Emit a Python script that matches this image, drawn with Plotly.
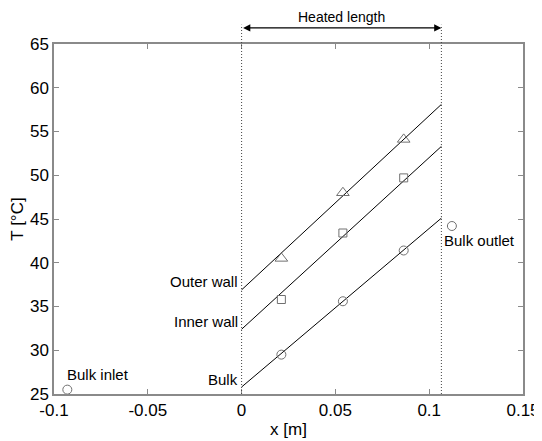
import plotly.graph_objects as go

# Data
x_meas = [0.0212, 0.054, 0.0864]
T_outer = [40.5, 48.0, 54.1]
T_inner = [35.8, 43.4, 49.7]
T_bulk = [29.5, 35.6, 41.4]

heated_x = [0.0, 0.1065]
fit_outer = [36.9, 58.1]
fit_inner = [32.4, 53.3]
fit_bulk = [25.8, 45.1]

inlet_x = [-0.0929]
inlet_T = [25.5]
outlet_x = [0.1121]
outlet_T = [44.2]

x_ticks = [-0.1, -0.05, 0, 0.05, 0.1, 0.15]
x_ticktext = ["-0.1", "-0.05", "0", "0.05", "0.1", "0.15"]
y_ticks = [25, 30, 35, 40, 45, 50, 55, 60, 65]

FONT = "Liberation Sans, Arial, sans-serif"
MK = "#707070"

fig = go.Figure()

for fy in [fit_outer, fit_inner, fit_bulk]:
    fig.add_trace(go.Scatter(x=heated_x, y=fy, mode="lines",
                             line=dict(color="black", width=1), showlegend=False))

fig.add_trace(go.Scatter(x=x_meas, y=T_outer, mode="markers", showlegend=False,
                         marker=dict(symbol="triangle-up-open", size=11, color=MK, line=dict(width=1))))
fig.add_trace(go.Scatter(x=x_meas, y=T_inner, mode="markers", showlegend=False,
                         marker=dict(symbol="square-open", size=8, color=MK, line=dict(width=1))))
fig.add_trace(go.Scatter(x=x_meas + inlet_x + outlet_x, y=T_bulk + inlet_T + outlet_T,
                         mode="markers", showlegend=False,
                         marker=dict(symbol="circle-open", size=9, color=MK, line=dict(width=1))))

# dotted heated-length boundaries
for xv in heated_x:
    fig.add_shape(type="line", xref="x", yref="paper", x0=xv, x1=xv, y0=0, y1=1.055,
                  line=dict(color="#444444", width=1, dash="1px,2px"))

# double arrow
fig.add_annotation(x=heated_x[1], y=1.0458, xref="x", yref="paper",
                   ax=heated_x[0], ay=0, axref="x", ayref="pixel",
                   showarrow=True, arrowhead=2, arrowside="end+start", arrowsize=1.2,
                   arrowwidth=1.2, arrowcolor="black", text="")
fig.add_annotation(x=(heated_x[0] + heated_x[1]) / 2, y=1.077, xref="x", yref="paper",
                   text="Heated length", showarrow=False, yanchor="middle", borderpad=0,
                   font=dict(size=14, color="black", family=FONT))

lbl = dict(showarrow=False, font=dict(size=15, color="black", family=FONT))
fig.add_annotation(x=-0.001, y=fit_outer[0] + 1.0, xref="x", yref="y", text="Outer wall",
                   xanchor="right", yanchor="middle", **lbl)
fig.add_annotation(x=-0.001, y=fit_inner[0] + 0.9, xref="x", yref="y", text="Inner wall",
                   xanchor="right", yanchor="middle", **lbl)
fig.add_annotation(x=-0.001, y=fit_bulk[0] + 0.9, xref="x", yref="y", text="Bulk",
                   xanchor="right", yanchor="middle", **lbl)
fig.add_annotation(x=inlet_x[0] - 0.0015, y=inlet_T[0] + 1.7, xref="x", yref="y", text="Bulk inlet",
                   xanchor="left", yanchor="middle", **lbl)
fig.add_annotation(x=outlet_x[0] - 0.0055, y=outlet_T[0] - 1.7, xref="x", yref="y", text="Bulk outlet",
                   xanchor="left", yanchor="middle", **lbl)

axis_common = dict(showgrid=False, zeroline=False, showline=True, linecolor="#8a8a8a",
                   linewidth=1.5, mirror="ticks", ticks="inside", ticklen=5, automargin=False,
                   tickcolor="#8a8a8a", tickfont=dict(size=17, color="black", family=FONT))

fig.update_xaxes(range=[-0.1, 0.15], tickvals=x_ticks, ticktext=x_ticktext,
                 title=dict(text="x [m]", font=dict(size=17, color="black", family=FONT), standoff=4),
                 **axis_common)
fig.update_yaxes(range=[25, 65], tickvals=y_ticks,
                 title=dict(text="T [°C]", font=dict(size=17, color="black", family=FONT), standoff=4),
                 **axis_common)

# page body has an 8px default margin, so the figure is shrunk by that offset
fig.update_layout(width=534, height=433, margin=dict(l=46, r=19, t=36, b=47),
                  paper_bgcolor="white", plot_bgcolor="white",
                  font=dict(family=FONT, color="black"))

fig.write_html("out.html")
